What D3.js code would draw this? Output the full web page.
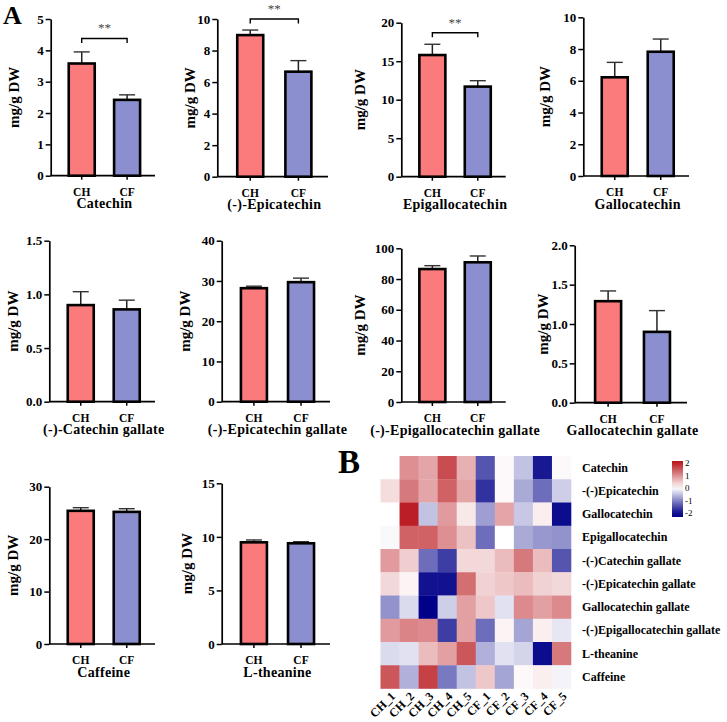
<!DOCTYPE html>
<html>
  <head>
    <meta charset="utf-8" />
    <title>Catechins, caffeine and L-theanine</title>
    <script src="https://d3js.org/d3.v7.min.js"></script>
    <style>
        body{
            margin: 0;
            background: #fff;
        }
        text{
            font-family: "Liberation Serif", "Times New Roman", serif;
            font-weight: bold;
        }
    </style>
  </head>
  <body>
    <svg id="vis"></svg>

    <script>
        // ---- data: bar panels (mg/g DW, mean and SD) ----
        var compounds = ["Catechin", "(-)-Epicatechin", "Epigallocatechin", "Gallocatechin",
                         "(-)-Catechin gallate", "(-)-Epicatechin gallate", "(-)-Epigallocatechin gallate", "Gallocatechin gallate",
                         "Caffeine", "L-theanine"];
        var groups = ["CH", "CF"];
        var meanCH = [3.58, 8.98, 15.8, 6.22, 0.90, 28.2, 86.5, 1.29, 25.4, 9.49];
        var sdCH   = [0.37, 0.32, 1.40, 0.94, 0.125, 0.5, 2.2, 0.13, 0.6, 0.22];
        var meanCF = [2.42, 6.66, 11.7, 7.83, 0.86, 29.7, 90.9, 0.90, 25.2, 9.40];
        var sdCF   = [0.16, 0.70, 0.77, 0.80, 0.086, 1.0, 4.1, 0.27, 0.6, 0.15];
        var yMax   = [5, 10, 20, 10, 1.5, 40, 100, 2.0, 30, 15];
        var yStep  = [1, 2, 5, 2, 0.5, 10, 20, 0.5, 10, 5];
        var tickDecimals = [0, 0, 0, 0, 1, 0, 0, 1, 0, 0];
        // significance brackets: panel index, bracket height (axis units), label
        var sigPanel = [0, 1, 2];
        var sigLevel = [4.38, 10.0, 18.7];
        var sigText  = ["**", "**", "**"];

        // ---- data: heatmap (z-scores) ----
        var samples = ["CH_1", "CH_2", "CH_3", "CH_4", "CH_5", "CF_1", "CF_2", "CF_3", "CF_4", "CF_5"];
        var hmRows = ["Catechin", "-(-)Epicatechin", "Gallocatechin", "Epigallocatechin",
                      "-(-)Catechin gallate", "-(-)Epicatechin gallate", "Gallocatechin gallate",
                      "-(-)Epigallocatechin gallate", "L-theanine", "Caffeine"];
        var hmValues = [
            [ 0.00,  1.00,  0.80,  1.60,  0.70, -1.40,  0.05, -0.50, -1.90,  0.05],
            [ 0.30,  1.20,  0.80,  1.40,  0.80, -1.70,  0.05, -0.70, -1.20, -0.40],
            [ 0.00,  2.00, -0.50,  0.90,  0.20, -0.80,  0.80, -0.45,  0.15, -2.00],
            [-0.05,  1.40,  1.40,  1.00,  0.55, -1.20,  0.00, -0.70, -0.85, -0.90],
            [ 0.90,  0.45, -1.20, -1.60,  0.35,  0.35,  0.60,  1.20,  0.60, -1.40],
            [ 0.35,  0.10, -1.95, -1.95,  1.30,  0.40,  0.50,  0.60,  0.40,  0.35],
            [-0.90, -0.30, -2.20, -0.40,  0.85,  0.50, -0.25,  1.05,  0.85,  1.05],
            [ 0.90,  1.10,  1.05, -1.60,  0.85, -1.20,  0.10, -0.75,  0.15, -0.20],
            [-0.30, -0.25,  0.60,  0.85,  1.50, -0.65, -0.25, -0.35, -2.00,  1.20],
            [ 1.50, -0.65,  1.70, -1.10, -0.50,  0.50, -0.75,  0.05,  0.15, -0.10]
        ];
        var legendTicks = [2, 1, 0, -1, -2];

        // ---- layout ----
        var width = 727, height = 722;
        var svg = d3.select("#vis").attr("width", width).attr("height", height);

        // y-axis x, top tick y, x-axis y, x-axis end, y title x
        var layout = [
            {x0: 50.7,  top: 19,    bot: 175.7, end: 155,   tx: 13.5},
            {x0: 217.3, top: 19,    bot: 176.7, end: 328,   tx: 190},
            {x0: 401.3, top: 22.7,  bot: 176.7, end: 505.7, tx: 360},
            {x0: 583.3, top: 17.3,  bot: 176,   end: 689,   tx: 545},
            {x0: 49.3,  top: 240.7, bot: 401.7, end: 155,   tx: 12.5},
            {x0: 221.7, top: 240.7, bot: 401.7, end: 330,   tx: 185},
            {x0: 401.3, top: 248.3, bot: 402,   end: 505.7, tx: 360},
            {x0: 574.7, top: 245.3, bot: 402.7, end: 687,   tx: 543},
            {x0: 49.3,  top: 486.7, bot: 644,   end: 155,   tx: 13},
            {x0: 221.7, top: 483.3, bot: 644,   end: 330,   tx: 186.5}
        ];
        var fills = {CH: "#fb7b7c", CF: "#8b8fcf"};

        compounds.forEach(function(name, i) {
            var L = layout[i];
            var g = svg.append("g");
            var w = L.end - L.x0;

            var y = d3.scaleLinear().domain([0, yMax[i]]).range([L.bot, L.top]);
            var x = d3.scaleBand().domain(groups)
                .range([L.x0 + 0.08 * w, L.x0 + 0.95 * w]);
            var barW = 26;

            var ticks = d3.range(0, yMax[i] + yStep[i] / 2, yStep[i]);
            var yAxis = d3.axisLeft(y).tickValues(ticks).tickSize(5).tickPadding(2)
                .tickSizeOuter(0).tickFormat(d3.format("." + tickDecimals[i] + "f"));
            var ya = g.append("g").attr("transform", "translate(" + L.x0 + ",0)").call(yAxis);
            ya.select(".domain").attr("stroke-width", 1.7);
            ya.selectAll(".tick line").attr("stroke-width", 1.5);
            ya.selectAll(".tick text").attr("font-size", 13).attr("fill", "#000")
                .style("font-family", '"Liberation Serif", serif').style("font-weight", "bold");

            // x axis line and category ticks
            g.append("line").attr("x1", L.x0).attr("x2", L.end)
                .attr("y1", L.bot).attr("y2", L.bot)
                .attr("stroke", "#000").attr("stroke-width", 1.7);
            g.selectAll(".xt").data(groups).enter().append("line")
                .attr("x1", function(d) { return x(d) + x.bandwidth() / 2; })
                .attr("x2", function(d) { return x(d) + x.bandwidth() / 2; })
                .attr("y1", L.bot).attr("y2", L.bot + 4)
                .attr("stroke", "#000").attr("stroke-width", 1.5);
            g.selectAll(".xl").data(groups).enter().append("text")
                .attr("x", function(d) { return x(d) + x.bandwidth() / 2; })
                .attr("y", L.bot + 20)
                .attr("text-anchor", "middle").attr("font-size", 11.5)
                .text(function(d) { return d; });

            var rows = [
                {grp: "CH", m: meanCH[i], s: sdCH[i]},
                {grp: "CF", m: meanCF[i], s: sdCF[i]}
            ];

            // error bars (upper only)
            g.selectAll(".eb").data(rows).enter().append("line")
                .attr("x1", function(d) { return x(d.grp) + x.bandwidth() / 2; })
                .attr("x2", function(d) { return x(d.grp) + x.bandwidth() / 2; })
                .attr("y1", function(d) { return y(d.m); })
                .attr("y2", function(d) { return y(d.m + d.s); })
                .attr("stroke", "#222").attr("stroke-width", 1.5);
            g.selectAll(".cap").data(rows).enter().append("line")
                .attr("x1", function(d) { return x(d.grp) + x.bandwidth() / 2 - 8; })
                .attr("x2", function(d) { return x(d.grp) + x.bandwidth() / 2 + 8; })
                .attr("y1", function(d) { return y(d.m + d.s); })
                .attr("y2", function(d) { return y(d.m + d.s); })
                .attr("stroke", "#333").attr("stroke-width", 1.4);

            g.selectAll(".bar").data(rows).enter().append("rect")
                .attr("x", function(d) { return x(d.grp) + x.bandwidth() / 2 - barW / 2; })
                .attr("width", barW)
                .attr("y", function(d) { return y(d.m); })
                .attr("height", function(d) { return y(0) - y(d.m); })
                .attr("fill", function(d) { return fills[d.grp]; })
                .attr("stroke", "#000").attr("stroke-width", 2.6);

            // compound label
            g.append("text")
                .attr("x", x("CH") + x.bandwidth())
                .attr("y", L.bot + 32.5)
                .attr("text-anchor", "middle").attr("font-size", 14)
                .attr("letter-spacing", 0.3)
                .text(name);

            // y title
            g.append("text")
                .attr("transform", "translate(" + (L.tx + 5) + "," + ((L.top + L.bot) / 2) + ") rotate(-90)")
                .attr("text-anchor", "middle").attr("font-size", 15)
                .text("mg/g DW");

            // significance
            var k = sigPanel.indexOf(i);
            if (k >= 0) {
                var xa = x("CH") + x.bandwidth() / 2, xb = x("CF") + x.bandwidth() / 2;
                var yb = y(sigLevel[k]);
                g.append("path")
                    .attr("d", "M" + xa + "," + (yb + 4.5) + "V" + yb + "H" + xb + "V" + (yb + 4.5))
                    .attr("fill", "none").attr("stroke", "#000").attr("stroke-width", 1.4);
                g.append("text").attr("x", (xa + xb) / 2).attr("y", yb - 6)
                    .attr("text-anchor", "middle").attr("font-size", 13)
                    .attr("fill", "#444").style("font-weight", "normal")
                    .text(sigText[k]);
            }
        });

        // panel letters
        svg.append("text").attr("x", 3).attr("y", 24).attr("font-size", 26).text("A");
        svg.append("text").attr("x", 338).attr("y", 473).attr("font-size", 33).text("B");

        // ---- heatmap ----
        var hx = d3.scaleBand().domain(samples).range([380.5, 571]);
        var hy = d3.scaleBand().domain(hmRows).range([456, 688.5]);
        var color = d3.scaleLinear().domain([-2.1, 0, 2.1])
            .range(["#000088", "#ffffff", "#b8141a"]).clamp(true);

        var hm = svg.append("g");
        hmValues.forEach(function(row, r) {
            hm.selectAll(".r" + r).data(row).enter().append("rect")
                .attr("x", function(d, c) { return hx(samples[c]); })
                .attr("y", hy(hmRows[r]))
                .attr("width", hx.bandwidth() + 0.3)
                .attr("height", hy.bandwidth() + 0.3)
                .attr("fill", function(d) { return color(d); });
        });

        hm.selectAll(".rl").data(hmRows).enter().append("text")
            .attr("x", 582)
            .attr("y", function(d) { return hy(d) + hy.bandwidth() / 2 + 4; })
            .attr("font-size", 12)
            .text(function(d) { return d; });

        hm.selectAll(".cl").data(samples).enter().append("text")
            .attr("transform", function(d) {
                return "translate(" + (hx(d) + hx.bandwidth() / 2 + 6) + ",697) rotate(-45)";
            })
            .attr("text-anchor", "end").attr("font-size", 12)
            .text(function(d) { return d; });

        // colour legend
        var ly = d3.scaleLinear().domain([-2, 2]).range([513, 463]);
        var defs = svg.append("defs");
        var grad = defs.append("linearGradient").attr("id", "lg")
            .attr("x1", 0).attr("y1", 1).attr("x2", 0).attr("y2", 0);
        var lTop = ly.invert(461), lBot = ly.invert(517);
        d3.range(0, 1.0001, 0.1).forEach(function(t) {
            var v = lBot + t * (lTop - lBot);
            grad.append("stop").attr("offset", t).attr("stop-color", color(v));
        });
        svg.append("rect").attr("x", 672).attr("y", 461).attr("width", 11).attr("height", 56)
            .attr("fill", "url(#lg)");
        svg.selectAll(".lt").data(legendTicks).enter().append("text")
            .attr("x", 685).attr("y", function(d) { return ly(d) + 3; })
            .attr("font-size", 9).style("font-weight", "normal")
            .text(function(d) { return d; });
    </script>
  </body>
</html>
